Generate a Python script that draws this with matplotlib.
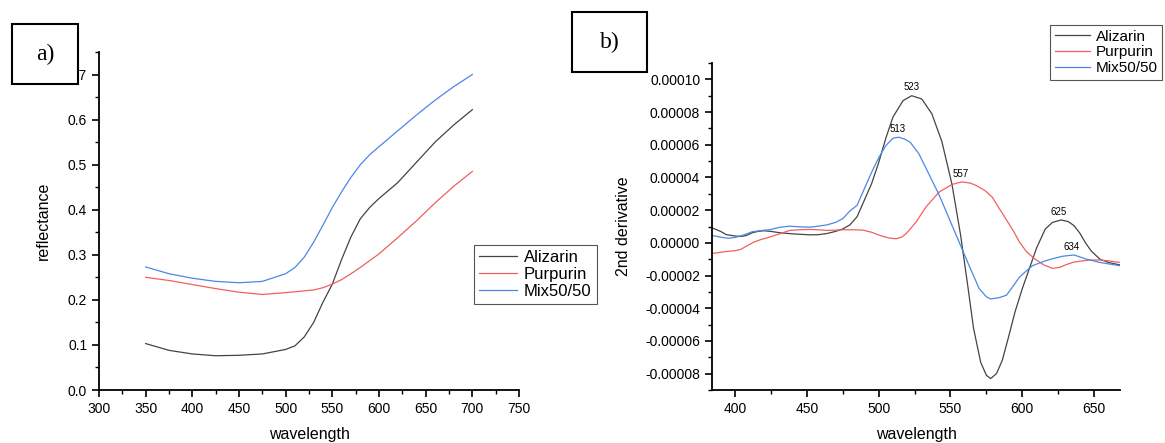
import matplotlib
matplotlib.use("Agg")
import matplotlib.pyplot as plt
import numpy as np
from matplotlib.patches import Rectangle
from matplotlib.ticker import MultipleLocator, FormatStrFormatter

plt.rcParams['font.family'] = ['Liberation Sans', 'DejaVu Sans']
plt.rcParams['axes.unicode_minus'] = False

names = ["Alizarin", "Purpurin", "Mix50/50"]
colors = ["#444444", "#f06060", "#4a88e6"]

# a) reflectance spectra
wl_a = [350, 375, 400, 425, 450, 475, 500, 510, 520, 530, 540, 550, 560, 570,
        580, 590, 600, 620, 640, 660, 680, 700]
refl_aliz = [0.103, 0.088, 0.080, 0.076, 0.077, 0.080, 0.090, 0.098, 0.118, 0.150,
             0.195, 0.235, 0.290, 0.340, 0.380, 0.405, 0.425, 0.460, 0.505, 0.550,
             0.588, 0.622]
refl_purp = [0.250, 0.243, 0.234, 0.225, 0.217, 0.212, 0.216, 0.218, 0.220, 0.222,
             0.227, 0.235, 0.245, 0.258, 0.272, 0.287, 0.302, 0.338, 0.375, 0.415,
             0.452, 0.485]
refl_mix = [0.273, 0.258, 0.248, 0.241, 0.238, 0.241, 0.258, 0.272, 0.295, 0.328,
            0.366, 0.405, 0.440, 0.472, 0.500, 0.522, 0.540, 0.575, 0.610, 0.643,
            0.673, 0.700]

# b) second derivative (units of 1e-5)
wl_aliz = [384, 390, 394, 400, 404, 408, 412, 416, 420, 425, 431, 440, 452, 458, 464,
           470, 475, 480, 485, 490, 495, 500, 505, 510, 517, 523, 530, 537, 544, 551,
           557, 562, 566, 571, 575, 578, 582, 586, 590, 595, 600, 606, 610, 616, 621,
           627, 632, 636, 640, 644, 648, 654, 660, 668]
d2_aliz = [0.92, 0.70, 0.50, 0.42, 0.39, 0.45, 0.62, 0.70, 0.74, 0.70, 0.62, 0.55,
           0.49, 0.50, 0.57, 0.70, 0.85, 1.10, 1.60, 2.60, 3.60, 4.90, 6.40, 7.70,
           8.70, 9.00, 8.80, 7.90, 6.20, 3.60, 0.50, -2.60, -5.20, -7.30, -8.10,
           -8.30, -8.00, -7.20, -5.90, -4.20, -2.80, -1.30, -0.30, 0.85, 1.25, 1.40,
           1.30, 1.05, 0.60, 0.00, -0.50, -1.00, -1.20, -1.35]

wl_purp = [384, 390, 394, 400, 404, 408, 413, 418, 424, 431, 438, 445, 452, 458, 464,
           470, 475, 482, 489, 495, 501, 507, 512, 516, 519, 522, 526, 533, 542, 551,
           558, 564, 568, 574, 579, 584, 589, 594, 598, 603, 609, 615, 621, 626, 630,
           635, 640, 647, 654, 660, 668]
d2_purp = [-0.65, -0.58, -0.53, -0.48, -0.40, -0.20, 0.04, 0.20, 0.35, 0.55, 0.76,
           0.80, 0.82, 0.80, 0.76, 0.78, 0.80, 0.80, 0.78, 0.65, 0.45, 0.30, 0.25,
           0.35, 0.55, 0.85, 1.27, 2.20, 3.10, 3.57, 3.73, 3.65, 3.50, 3.20, 2.80,
           2.10, 1.40, 0.70, 0.05, -0.55, -1.00, -1.35, -1.56, -1.50, -1.35, -1.20,
           -1.12, -1.05, -1.05, -1.10, -1.20]

wl_mix = [384, 390, 395, 400, 405, 412, 418, 424, 431, 438, 445, 452, 458, 464, 470,
          475, 480, 485, 490, 495, 500, 505, 510, 514, 518, 522, 528, 535, 542, 549,
          556, 563, 570, 575, 578, 584, 589, 594, 598, 603, 607, 616, 622, 628, 636,
          644, 654, 668]
d2_mix = [0.45, 0.35, 0.28, 0.33, 0.45, 0.68, 0.75, 0.80, 0.95, 1.02, 0.98, 0.96,
          1.02, 1.10, 1.25, 1.48, 1.95, 2.30, 3.30, 4.30, 5.20, 5.95, 6.40, 6.46,
          6.35, 6.15, 5.45, 4.20, 2.95, 1.50, 0.05, -1.40, -2.80, -3.30, -3.43,
          -3.35, -3.20, -2.60, -2.10, -1.70, -1.40, -1.10, -0.95, -0.82, -0.74,
          -0.98, -1.20, -1.40]

# peak labels: (wavelength, series index)
peak_labels = [(523, 0), (513, 2), (557, 1), (625, 0), (634, 2)]

W, H = 1165, 443
fig = plt.figure(figsize=(W / 100, H / 100), dpi=100)

def style_axes(ax):
    for side in ["top", "right"]:
        ax.spines[side].set_visible(False)
    for side in ["left", "bottom"]:
        ax.spines[side].set_linewidth(1.3)
    ax.tick_params(which="major", direction="out", length=5, width=1.2, labelsize=10)
    ax.tick_params(which="minor", direction="out", length=3, width=1.0)

def add_legend(ax, x0, y0, size):
    leg = ax.legend(loc="upper left", bbox_to_anchor=(x0 / W, 1 - y0 / H),
                    bbox_transform=fig.transFigure, fontsize=size, fancybox=False,
                    edgecolor="#555555", framealpha=1, handlelength=2.3,
                    handletextpad=0.4, labelspacing=0.12, borderpad=0.3,
                    borderaxespad=0)
    leg.get_frame().set_linewidth(0.8)

# ---- panel a ----
axa = fig.add_axes([99 / W, 1 - 390 / H, 420 / W, 338 / H])
for y, c, n in zip([refl_aliz, refl_purp, refl_mix], colors, names):
    axa.plot(wl_a, y, color=c, lw=0.9, label=n)
axa.set_xlim(300, 750)
axa.set_ylim(0, 0.75)
axa.xaxis.set_major_locator(MultipleLocator(50))
axa.xaxis.set_minor_locator(MultipleLocator(25))
axa.yaxis.set_major_locator(MultipleLocator(0.1))
axa.yaxis.set_minor_locator(MultipleLocator(0.05))
axa.yaxis.set_major_formatter(FormatStrFormatter('%.1f'))
style_axes(axa)
axa.set_xlabel("wavelength", fontsize=11.5, labelpad=8)
axa.set_ylabel("reflectance", fontsize=11.5, labelpad=12)
add_legend(axa, 474, 245, 12)

# ---- panel b ----
axb = fig.add_axes([712 / W, 1 - 390 / H, 408 / W, 327 / H])
series_b = [(wl_aliz, d2_aliz), (wl_purp, d2_purp), (wl_mix, d2_mix)]
for (x, y), c, n in zip(series_b, colors, names):
    axb.plot(x, np.array(y) * 1e-5, color=c, lw=0.9, label=n)
for wl, i in peak_labels:
    x, y = series_b[i]
    yv = np.interp(wl, x, y) * 1e-5
    axb.annotate(str(wl), (wl, yv), xytext=(0, 6), textcoords="offset points",
                 ha="center", va="center", fontsize=7)
axb.set_xlim(384, 668)
axb.set_ylim(-0.00009, 0.00011)
axb.xaxis.set_major_locator(MultipleLocator(50))
axb.xaxis.set_minor_locator(MultipleLocator(25))
axb.yaxis.set_major_locator(MultipleLocator(0.00002))
axb.yaxis.set_minor_locator(MultipleLocator(0.00001))
axb.yaxis.set_major_formatter(FormatStrFormatter('%.5f'))
style_axes(axb)
axb.set_xlabel("wavelength", fontsize=11.5, labelpad=8)
axb.set_ylabel("2nd derivative", fontsize=11.5, labelpad=10)
add_legend(axb, 1050, 25, 11)

# panel letter boxes
for (x0, y0, w, h, letter) in [(12, 24, 66, 60, "a)"), (572, 12, 75, 60, "b)")]:
    fig.patches.append(Rectangle((x0 / W, 1 - (y0 + h) / H), w / W, h / H,
                                 transform=fig.transFigure, facecolor="white",
                                 edgecolor="black", lw=1.5, zorder=5))
    fig.text((x0 + w / 2) / W, 1 - (y0 + h / 2) / H, letter, ha="center",
             va="center", fontsize=17, family="Liberation Serif", zorder=6)

fig.savefig("out.png", dpi=100)
